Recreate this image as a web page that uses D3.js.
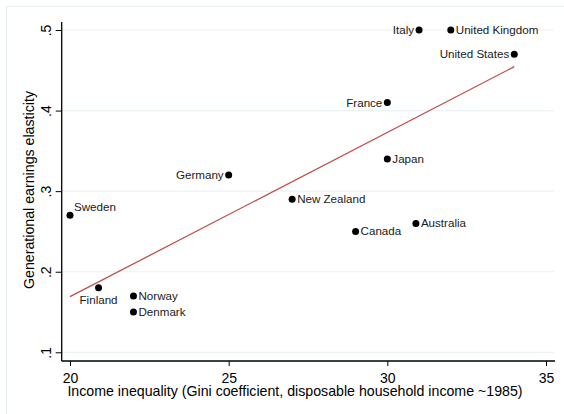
<!DOCTYPE html>
<html><head><meta charset="utf-8">
<script src="https://cdn.jsdelivr.net/npm/d3@7"></script>
<style>body{margin:0;background:#fff}svg{display:block;font-family:"Liberation Sans",Arial,sans-serif}</style>
</head><body><svg id="c" width="564" height="414"></svg>
<script>
const countries = ["Sweden","Finland","Norway","Denmark","Germany","New Zealand","Canada","Japan","France","Australia","Italy","United Kingdom","United States"];
const gini = [20,20.9,22,22,25,27,29,30,30,30.9,31,32,34];
const elasticity = [0.27,0.18,0.17,0.15,0.32,0.29,0.25,0.34,0.41,0.26,0.50,0.50,0.47];
const labelPos = ["ur","below","right","right","left","right","right","right","left","right","left","right","left"];
const xTicks = [20,25,30,35];
const yTicks = [0.1,0.2,0.3,0.4,0.5];
const yTickLabels = [".1",".2",".3",".4",".5"];

const svg = d3.select("#c");
const x = d3.scaleLinear().domain([20,35]).range([70,546]);
const y = d3.scaleLinear().domain([0.1,0.5]).range([352.3,30]);

// outer frame
svg.append("rect").attr("x",6.5).attr("y",6.5).attr("width",570).attr("height",420)
  .attr("fill","none").attr("stroke","#e6eef0").attr("stroke-width",1);

// gridlines
svg.append("g").selectAll("line").data(yTicks).join("line")
  .attr("x1",62).attr("x2",554).attr("y1",d=>y(d)).attr("y2",d=>y(d))
  .attr("stroke","#eaf2f4").attr("stroke-width",1.2);

// y axis
const yAxis = d3.axisLeft(y).tickValues(yTicks).tickFormat((d,i)=>yTickLabels[i]).tickSize(6).tickSizeOuter(0);
const gy = svg.append("g").attr("transform","translate(61.7,0)").call(yAxis);
gy.select(".domain").attr("d","M0,22V361").attr("stroke","#000").attr("stroke-width",1.3);
gy.selectAll(".tick line").attr("stroke","#000").attr("stroke-width",1);
gy.selectAll(".tick text").attr("font-size",14).attr("fill","#000")
  .attr("text-anchor","middle").attr("x",0).attr("dy",0)
  .attr("transform","translate(-11,0) rotate(-90)").attr("dominant-baseline","auto");

// x axis
const xAxis = d3.axisBottom(x).tickValues(xTicks).tickSize(5).tickSizeOuter(0);
const gx = svg.append("g").attr("transform","translate(0,361)").call(xAxis);
gx.select(".domain").attr("d","M61.7,0H555").attr("stroke","#000").attr("stroke-width",1.3);
gx.selectAll(".tick line").attr("stroke","#000").attr("stroke-width",1);
gx.selectAll(".tick text").attr("font-size",14).attr("fill","#000").attr("y",21.5).attr("dy",0);

// titles
svg.append("text").attr("x",295).attr("y",396).attr("text-anchor","middle").attr("font-size",14.2)
  .text("Income inequality (Gini coefficient, disposable household income ~1985)");
svg.append("text").attr("transform","translate(34,190) rotate(-90)").attr("text-anchor","middle").attr("font-size",14.2)
  .text("Generational earnings elasticity");

// fit line (OLS)
const mx = d3.mean(gini), my = d3.mean(elasticity);
const b = d3.sum(gini,(g,i)=>(g-mx)*(elasticity[i]-my))/d3.sum(gini,g=>(g-mx)**2);
const a = my - b*mx;
const ext = d3.extent(gini);
svg.append("line").attr("x1",x(ext[0])).attr("y1",y(a+b*ext[0])).attr("x2",x(ext[1])).attr("y2",y(a+b*ext[1]))
  .attr("stroke","#c0504d").attr("stroke-width",1.3);

// points
const data = countries.map((c,i)=>({c,x:gini[i],y:elasticity[i],p:labelPos[i]}));
svg.append("g").selectAll("circle").data(data).join("circle")
  .attr("cx",d=>x(d.x)).attr("cy",d=>y(d.y)).attr("r",3.5).attr("fill","#000");

svg.append("g").selectAll("text").data(data).join("text")
  .attr("font-size",11.6).attr("fill","#1a1a1a")
  .attr("x",d=>{const px=x(d.x); if(d.p==="right")return px+5; if(d.p==="left")return px-5; if(d.p==="ur")return px+4; return px;})
  .attr("y",d=>{const py=y(d.y); if(d.p==="ur")return py-4; if(d.p==="below")return py+16; return py+4;})
  .attr("text-anchor",d=>d.p==="left"?"end":(d.p==="below"?"middle":"start"))
  .text(d=>d.c);
</script></body></html>
